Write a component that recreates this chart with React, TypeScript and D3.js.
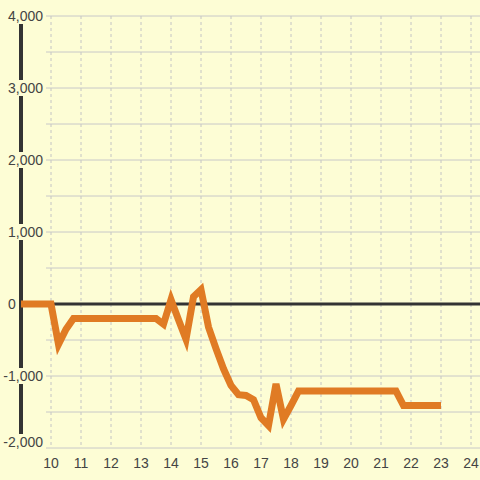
import React from "react";
import * as d3 from "d3";

const xs = [9, 10, 10.25, 10.5, 10.75, 13.5, 13.75, 14, 14.25, 14.5, 14.75, 15, 15.25, 15.5, 15.75, 16, 16.25, 16.5, 16.75, 17, 17.25, 17.5, 17.75, 18, 18.25, 21.5, 21.75, 23];
const ys = [0, 0, -560, -350, -200, -200, -280, 60, -220, -490, 100, 200, -320, -620, -900, -1130, -1260, -1270, -1330, -1580, -1690, -1110, -1600, -1410, -1210, -1210, -1410, -1410];
const yTicks = [4000, 3000, 2000, 1000, 0, -1000, -2000];
const yGrid = [4000, 3500, 3000, 2500, 2000, 1500, 1000, 500, 0, -500, -1000, -1500, -2000];
const xTicks = [10, 11, 12, 13, 14, 15, 16, 17, 18, 19, 20, 21, 22, 23, 24];

const BG = "#fdfdd5";

export default function App() {
  const x = d3.scaleLinear().domain([9, 24]).range([21, 471]);
  const y = d3.scaleLinear().domain([-2000, 4000]).range([448, 16]);
  const fmt = d3.format(",");
  const line = d3.line<number>().x((_, i) => x(xs[i])).y((d) => y(d));
  return (
    <svg width={480} height={480} style={{ position: "absolute", left: 0, top: 0 }} fontFamily="Liberation Sans, Arial, sans-serif">
      <rect x={0} y={0} width={480} height={480} fill={BG} />
      {xTicks.map((t) => (
        <line key={"vx" + t} x1={x(t)} x2={x(t)} y1={16} y2={448} stroke="#c4c4c4" strokeWidth={1} strokeDasharray="3,3" />
      ))}
      {yGrid.map((t) => (
        <line key={"hg" + t} x1={46} x2={480} y1={y(t)} y2={y(t)} stroke="#c8c8c8" strokeWidth={1} />
      ))}
      <line x1={21} x2={21} y1={24} y2={436} stroke="#333" strokeWidth={4} />
      <line x1={21} x2={480} y1={y(0)} y2={y(0)} stroke="#333" strokeWidth={3} />
      {yTicks.map((t) => {
        const label = fmt(t).replace("−", "-");
        const cy = t === -2000 ? y(t) - 6 : y(t);
        if (t === 0) {
          return (
            <text key={"yt" + t} x={8} y={cy + 5} textAnchor="start" fontSize={14} fill="#444">{label}</text>
          );
        }
        return (
          <g key={"yt" + t}>
            <rect x={43 - label.length * 7.8} y={cy - 8} width={label.length * 7.8} height={16} fill={BG} />
            <text x={43} y={cy + 5} textAnchor="end" fontSize={14} fill="#444">{label}</text>
          </g>
        );
      })}
      {xTicks.map((t) => (
        <text key={"xt" + t} x={x(t)} y={468} textAnchor="middle" fontSize={14} fill="#444">{t}</text>
      ))}
      <path d={line(ys) || ""} fill="none" stroke="#e07b24" strokeWidth={7} strokeLinejoin="miter" strokeLinecap="butt" />
    </svg>
  );
}
